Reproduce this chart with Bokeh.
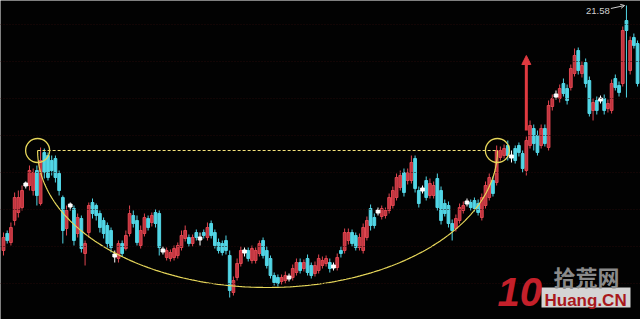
import numpy as np
from bokeh.plotting import figure
from bokeh.models import Span, Label, Arrow, NormalHead, OpenHead, Range1d, BoxAnnotation
from bokeh.embed import file_html
from bokeh.resources import INLINE

# ---- daily candles (price units) ----
opens = [19.13, 19.30, 19.21, 19.43, 19.51, 19.56, 19.79, 19.78, 19.73, 19.93,
         19.60, 20.11, 20.08, 20.03, 20.05, 19.90, 19.66, 19.35, 19.58, 19.55,
         19.30, 19.45, 19.10, 19.31, 19.61, 19.58, 19.50, 19.43, 19.38, 19.33,
         19.08, 19.05, 19.20, 19.15, 19.30, 19.48, 19.43, 19.18, 19.30, 19.45,
         19.41, 19.51, 19.50, 19.13, 19.06, 19.05, 19.06, 19.08, 19.16, 19.25,
         19.26, 19.20, 19.31, 19.25, 19.31, 19.26, 19.40, 19.31, 19.21, 19.20,
         19.23, 19.08, 18.71, 18.86, 19.00, 19.12, 19.13, 19.03, 19.03, 19.10,
         19.23, 19.13, 19.05, 18.88, 18.86, 18.82, 18.83, 18.86, 18.86, 18.91,
         19.01, 18.95, 19.05, 18.98, 18.90, 18.93, 18.98, 19.00, 19.01, 18.97,
         18.96, 19.13, 19.13, 19.23, 19.31, 19.28, 19.16, 19.13, 19.26, 19.55,
         19.46, 19.52, 19.47, 19.48, 19.53, 19.58, 19.66, 19.76, 19.91, 19.83,
         19.83, 20.05, 19.73, 19.74, 19.83, 19.68, 19.68, 19.85, 19.73, 19.60,
         19.58, 19.40, 19.35, 19.43, 19.53, 19.61, 19.61, 19.63, 19.60, 19.46,
         19.58, 19.66, 19.83, 19.81, 20.06, 20.08, 20.18, 20.07, 20.15, 20.18,
         20.10, 19.93, 20.18, 20.35, 20.28, 20.18, 20.35, 20.16, 20.57, 20.68,
         20.65, 20.80, 20.75, 20.76, 20.90, 21.13, 20.90, 21.01, 20.83, 20.53,
         20.63, 20.64, 20.65, 20.55, 20.53, 20.85, 20.78, 20.80, 21.43, 20.93,
         21.26, 21.20]
closes = [19.26, 19.23, 19.36, 19.66, 19.66, 19.73, 19.79, 19.93, 19.91, 19.68,
          20.03, 19.91, 19.86, 19.93, 19.86, 19.73, 19.33, 19.53, 19.58, 19.23,
          19.46, 19.15, 19.20, 19.58, 19.50, 19.48, 19.36, 19.30, 19.20, 19.16,
          19.08, 19.20, 19.10, 19.28, 19.50, 19.40, 19.21, 19.33, 19.46, 19.36,
          19.48, 19.40, 19.16, 19.13, 19.13, 19.11, 19.15, 19.18, 19.28, 19.33,
          19.20, 19.26, 19.26, 19.25, 19.28, 19.36, 19.28, 19.18, 19.13, 19.11,
          19.13, 18.73, 18.83, 19.00, 19.13, 19.12, 19.05, 19.15, 19.13, 19.20,
          19.08, 18.98, 18.88, 18.81, 18.80, 18.86, 18.88, 18.86, 18.95, 19.01,
          18.93, 19.01, 18.91, 18.88, 18.98, 19.05, 19.03, 19.05, 18.95, 18.97,
          19.06, 19.10, 19.31, 19.31, 19.20, 19.16, 19.26, 19.36, 19.43, 19.38,
          19.38, 19.52, 19.55, 19.53, 19.66, 19.73, 19.86, 19.88, 19.71, 19.91,
          20.01, 19.75, 19.60, 19.74, 19.66, 19.80, 19.78, 19.56, 19.43, 19.50,
          19.40, 19.33, 19.45, 19.56, 19.58, 19.61, 19.56, 19.55, 19.51, 19.66,
          19.78, 19.86, 19.70, 20.13, 20.13, 20.15, 20.08, 20.07, 20.03, 20.11,
          19.95, 20.23, 20.38, 20.20, 20.11, 20.35, 20.20, 20.58, 20.65, 20.68,
          20.75, 20.70, 20.63, 20.95, 21.08, 20.93, 20.98, 20.80, 20.50, 20.61,
          20.53, 20.64, 20.53, 20.60, 20.80, 20.76, 20.71, 21.33, 21.33, 21.23,
          21.18, 20.80]
highs = [19.31, 19.33, 19.41, 19.71, 19.73, 19.78, 19.82, 19.98, 19.95, 19.98,
         20.16, 20.15, 20.11, 20.08, 20.08, 19.93, 19.68, 19.58, 19.61, 19.58,
         19.50, 19.48, 19.23, 19.61, 19.65, 19.60, 19.53, 19.46, 19.41, 19.36,
         19.13, 19.23, 19.23, 19.33, 19.58, 19.53, 19.48, 19.38, 19.50, 19.48,
         19.51, 19.54, 19.53, 19.17, 19.16, 19.14, 19.18, 19.21, 19.33, 19.38,
         19.29, 19.29, 19.34, 19.31, 19.34, 19.41, 19.43, 19.34, 19.25, 19.23,
         19.28, 19.13, 18.87, 19.05, 19.17, 19.16, 19.16, 19.18, 19.16, 19.23,
         19.26, 19.17, 19.08, 18.91, 18.89, 18.89, 18.92, 18.90, 18.99, 19.05,
         19.05, 19.04, 19.09, 19.01, 19.02, 19.09, 19.07, 19.08, 19.05, 19.01,
         19.10, 19.17, 19.35, 19.35, 19.34, 19.31, 19.30, 19.40, 19.47, 19.59,
         19.50, 19.56, 19.58, 19.56, 19.70, 19.77, 19.90, 19.93, 19.95, 19.95,
         20.08, 20.08, 19.77, 19.78, 19.87, 19.85, 19.82, 19.90, 19.77, 19.64,
         19.62, 19.44, 19.49, 19.60, 19.62, 19.65, 19.64, 19.66, 19.64, 19.70,
         19.82, 19.90, 19.87, 20.18, 20.17, 20.19, 20.23, 20.13, 20.18, 20.21,
         20.13, 20.27, 20.43, 20.39, 20.33, 20.39, 20.39, 20.63, 20.69, 20.73,
         20.79, 20.85, 20.79, 20.99, 21.15, 21.16, 21.02, 21.05, 20.87, 20.65,
         20.67, 20.68, 20.69, 20.64, 20.84, 20.89, 20.82, 21.37, 21.58, 21.27,
         21.30, 21.23]
lows = [19.08, 19.20, 19.18, 19.38, 19.46, 19.53, 19.75, 19.73, 19.68, 19.58,
        19.58, 19.85, 19.83, 19.88, 19.81, 19.68, 19.20, 19.28, 19.53, 19.18,
        19.26, 19.11, 18.98, 19.26, 19.45, 19.43, 19.31, 19.25, 19.16, 19.11,
        19.01, 19.01, 19.07, 19.13, 19.27, 19.36, 19.18, 19.15, 19.27, 19.33,
        19.37, 19.36, 19.08, 19.09, 19.03, 19.02, 19.03, 19.05, 19.13, 19.22,
        19.17, 19.17, 19.23, 19.18, 19.25, 19.23, 19.25, 19.15, 19.10, 19.08,
        19.09, 18.66, 18.68, 18.83, 18.97, 19.07, 19.02, 19.00, 19.00, 19.07,
        19.05, 18.95, 18.85, 18.78, 18.77, 18.79, 18.80, 18.82, 18.83, 18.88,
        18.90, 18.92, 18.88, 18.85, 18.87, 18.90, 18.95, 18.97, 18.91, 18.93,
        18.93, 19.06, 19.10, 19.19, 19.17, 19.13, 19.13, 19.10, 19.23, 19.33,
        19.35, 19.48, 19.44, 19.45, 19.50, 19.55, 19.63, 19.73, 19.67, 19.79,
        19.80, 19.71, 19.56, 19.70, 19.63, 19.65, 19.65, 19.53, 19.39, 19.47,
        19.36, 19.23, 19.32, 19.40, 19.50, 19.57, 19.53, 19.52, 19.48, 19.43,
        19.55, 19.63, 19.67, 19.78, 20.03, 20.05, 20.03, 20.01, 20.00, 20.07,
        19.91, 19.88, 20.15, 20.13, 20.08, 20.15, 20.17, 20.13, 20.53, 20.64,
        20.61, 20.67, 20.59, 20.73, 20.87, 20.89, 20.86, 20.76, 20.47, 20.43,
        20.49, 20.60, 20.49, 20.51, 20.50, 20.73, 20.67, 20.77, 20.66, 20.89,
        21.15, 20.77]

# ---- pattern annotations (price units / candle index) ----
neckline = 20.13
cup_left, cup_right = 9.2, 133.2
cup_bottom = 18.76
grid_levels = [21.39, 21.02, 20.65, 20.28, 19.91, 19.54, 19.17, 18.80]
arrow_index = 141
arrow_from, arrow_to = 20.33, 21.08

o = np.array(opens); c = np.array(closes); h = np.array(highs); l = np.array(lows)
idx = np.arange(len(o))
up = c > o
dn = c < o
fl = c == o

RED_FILL, RED_LINE = "#c0343e", "#e04650"
CYAN = "#52d6e6"
YEL = "#e6d65a"

p = figure(width=640, height=319, x_range=Range1d(-0.81, 171.79), y_range=Range1d(18.44, 21.63),
           output_backend="svg", toolbar_location=None, min_border=0,
           x_axis_location=None, y_axis_location=None)
p.background_fill_color = "#020202"
p.border_fill_color = "#020202"
p.outline_line_color = None
p.grid.grid_line_color = None

for lv in grid_levels:
    p.add_layout(Span(location=lv, dimension="width", line_color="#220909",
                      line_width=1, line_dash="1 2"))

wick_colors = np.where(up, RED_LINE, np.where(dn, CYAN, "#ffffff"))
p.segment(x0=idx, y0=l, x1=idx, y1=h, line_color=list(wick_colors), line_width=1)
p.vbar(x=idx[up], width=0.74, bottom=o[up], top=c[up], fill_color=RED_FILL, line_color=RED_LINE, line_width=1)
p.vbar(x=idx[dn], width=0.74, bottom=c[dn], top=o[dn], fill_color=CYAN, line_color=CYAN, line_width=1)
p.rect(x=idx[fl], y=c[fl], width=1.0, height=3, height_units="screen",
       fill_color="#ffffff", line_color="#ffffff")

# cup curve (half ellipse)
t = np.linspace(0, np.pi, 240)
cx = (cup_left + cup_right) / 2
a = (cup_right - cup_left) / 2
p.line(cx - a * np.cos(t), neckline - (neckline - cup_bottom) * np.sin(t), line_color=YEL, line_width=1.2)
p.line([cup_left, cup_right], [neckline, neckline], line_color="#f2e27a", line_width=1.2, line_dash="3 2")
p.scatter([cup_left, cup_right], [neckline, neckline], marker="circle", size=24,
          fill_color=None, line_color=YEL, line_width=1.3)

# breakout arrow
p.add_layout(Arrow(end=NormalHead(size=9, fill_color="#e03a40", line_color="#e03a40"),
                   x_start=arrow_index, y_start=arrow_from, x_end=arrow_index, y_end=arrow_to,
                   line_color="#e03a40", line_width=3))

# max label
im = int(np.argmax(h))
p.add_layout(Label(x=im - 10.9, y=h[im] - 0.085, text=f"{h[im]:.2f}", text_color="#cfcfcf",
                   text_font="Liberation Sans", text_font_size="9.5px", text_baseline="bottom"))
p.add_layout(Arrow(end=OpenHead(size=4, line_color="#cfcfcf", line_width=1),
                   x_start=im - 4.2, y_start=h[im] - 0.03, x_end=im - 0.5, y_end=h[im],
                   line_color="#cfcfcf", line_width=1))

# watermark logo
p.add_layout(BoxAnnotation(left=541, right=630, bottom=12, top=32,
                           left_units="screen", right_units="screen", bottom_units="screen", top_units="screen",
                           fill_color="#d4d4d4", fill_alpha=1.0, line_color=None))
p.add_layout(Label(x=497, y=14, x_units="screen", y_units="screen", text="10",
                   text_color="#c4202a", text_font="Liberation Sans", text_font_style="bold italic",
                   text_font_size="40px", text_baseline="bottom"))
p.add_layout(Label(x=553, y=28, x_units="screen", y_units="screen", text="拾荒网",
                   text_color="#8a8a8a", text_font="Noto Sans CJK SC", text_font_style="bold",
                   text_font_size="22px", text_baseline="bottom"))
p.add_layout(Label(x=544, y=10, x_units="screen", y_units="screen", text="Huang.CN",
                   text_color="#a8181c", text_font="Liberation Sans", text_font_style="bold",
                   text_font_size="17px", text_baseline="bottom"))

open("out.html", "w").write(file_html(p, INLINE))
